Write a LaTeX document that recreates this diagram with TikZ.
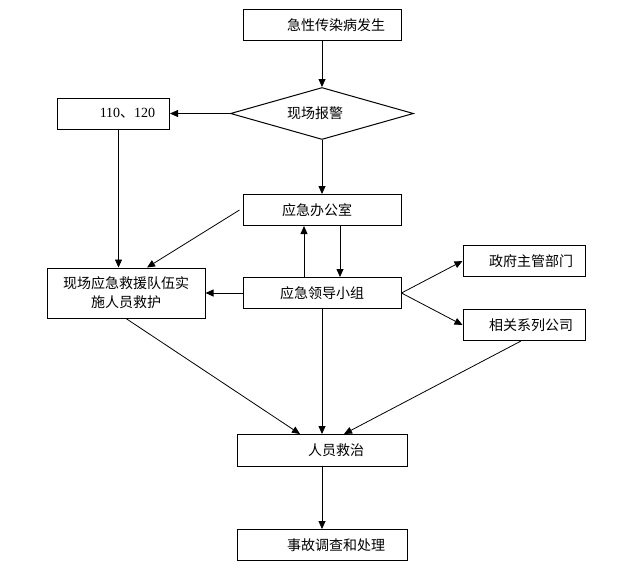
\documentclass[tikz,border=0pt]{standalone}
\usepackage{fontspec}
\setmainfont{Noto Sans CJK SC}
\newfontfamily\numfont{Liberation Serif}
\usetikzlibrary{shapes.geometric, arrows.meta, positioning}

\begin{document}
\begin{tikzpicture}[x=1pt, y=1pt, node distance=48pt, font=\fontsize{14}{19}\selectfont]
    \tikzstyle{box} = [rectangle, draw, line width=1pt, minimum width=158pt,
        minimum height=31pt, inner sep=0pt, text centered]
    \tikzstyle{decision} = [diamond, aspect=3.5, draw, line width=1pt, minimum width=183pt,
        minimum height=52pt, inner sep=0pt]
    \tikzstyle{line} = [draw, -{Triangle[length=8pt, width=7pt]}, line width=0.8pt]

    \useasboundingbox (0,0) rectangle (618,-571);

    \node [box] (onset) at (322,-25) {\hspace*{2em}急性传染病发生};
    \node [decision] (alarm) [below=46pt of onset] {现场报警\hspace*{1em}};
    \node [box, minimum width=112pt] (hotline) [left=60pt of alarm] {\hspace*{2em}{\numfont 110}、{\numfont 120}};
    \node [box] (office) [below=54pt of alarm] {应急办公室\hspace*{0.7em}};
    \node [box] (leader) [below=51pt of office] {应急领导小组};
    \node [box, minimum height=50pt, align=center] (rescue) [left=37pt of leader] {现场应急救援队伍实\\ 施人员救护};
    \node [box, minimum width=122pt] (gov) [above right=0pt and 61pt of leader] {\hspace*{1em}政府主管部门};
    \node [box, minimum width=122pt] (company) [below right=0pt and 61pt of leader] {\hspace*{1em}相关系列公司};
    \node [box, minimum width=170pt, minimum height=32pt] (treat) [below=125pt of leader] {\hspace*{2em}人员救治};
    \node [box, minimum width=170pt] (inquiry) [below=62pt of treat] {\hspace*{2em}事故调查和处理};

    \path [line] (onset.south) -- (alarm.north);
    \path [line] (alarm.west) -- (hotline.east);
    \path [line] (alarm.south) -- (office.north);
    \path [line] ([xshift=5pt]hotline.south) -- ([xshift=5pt]hotline.south |- rescue.north);
    \path [line] ([xshift=-3pt]office.west) -- ([xshift=21pt]rescue.north);
    \path [line] ([xshift=-18pt]leader.north) -- ([xshift=-18pt]office.south);
    \path [line] ([xshift=18pt]office.south) -- ([xshift=18pt]leader.north);
    \path [line] (leader.west) -- (rescue.east);
    \path [line] (leader.east) -- (gov.west);
    \path [line] (leader.east) -- (company.west);
    \path [line] (rescue.south) -- ([xshift=-22pt]treat.north);
    \path [line] (leader.south) -- (treat.north);
    \path [line] ([xshift=-3pt]company.south) -- ([xshift=22pt]treat.north);
    \path [line] (treat.south) -- (inquiry.north);
\end{tikzpicture}
\end{document}
